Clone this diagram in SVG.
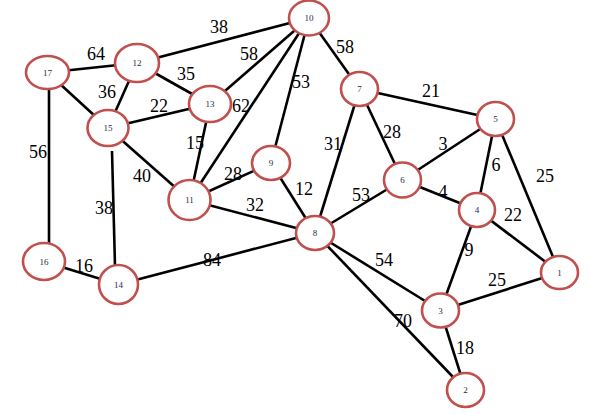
<svg xmlns="http://www.w3.org/2000/svg" width="590" height="414" viewBox="0 0 590 414">
<style>
.e{stroke:#000;stroke-width:2.6;fill:none}
.n ellipse{fill:#fff;stroke:#c0504d;stroke-width:2.6}
.n text{font-family:"Liberation Serif",serif;font-size:9px;fill:#1f2a44;text-anchor:middle;dominant-baseline:central}
.l{font-family:"Liberation Serif",serif;font-size:18px;fill:#000;text-anchor:middle}
</style>
<rect width="590" height="414" fill="#fff"/>
<g id="edges">
<line class="e" x1="309" y1="18" x2="137" y2="63"/>
<line class="e" x1="309" y1="18" x2="210" y2="104"/>
<line class="e" x1="309" y1="18" x2="189.5" y2="200"/>
<line class="e" x1="309" y1="18" x2="271" y2="163"/>
<line class="e" x1="309" y1="18" x2="359.5" y2="89"/>
<line class="e" x1="47.5" y1="72.5" x2="137" y2="63"/>
<line class="e" x1="47.5" y1="72.5" x2="108" y2="128"/>
<line class="e" x1="137" y1="63" x2="108" y2="128"/>
<line class="e" x1="137" y1="63" x2="210" y2="104"/>
<line class="e" x1="108" y1="128" x2="210" y2="104"/>
<line class="e" x1="210" y1="104" x2="189.5" y2="200"/>
<line class="e" x1="108" y1="128" x2="189.5" y2="200"/>
<line class="e" x1="49" y1="89" x2="49" y2="244"/>
<line class="e" x1="112" y1="151" x2="115" y2="266"/>
<line class="e" x1="44" y1="261.5" x2="118.5" y2="284.5"/>
<line class="e" x1="118.5" y1="284.5" x2="315" y2="233"/>
<line class="e" x1="189.5" y1="200" x2="271" y2="163"/>
<line class="e" x1="189.5" y1="200" x2="315" y2="233"/>
<line class="e" x1="271" y1="163" x2="315" y2="233"/>
<line class="e" x1="359.5" y1="89" x2="315" y2="233"/>
<line class="e" x1="359.5" y1="89" x2="402.5" y2="180"/>
<line class="e" x1="359.5" y1="89" x2="495.5" y2="119"/>
<line class="e" x1="495.5" y1="119" x2="402.5" y2="180"/>
<line class="e" x1="495.5" y1="119" x2="477" y2="210"/>
<line class="e" x1="495.5" y1="119" x2="559.5" y2="272.5"/>
<line class="e" x1="402.5" y1="180" x2="315" y2="233"/>
<line class="e" x1="402.5" y1="180" x2="477" y2="210"/>
<line class="e" x1="477" y1="210" x2="559.5" y2="272.5"/>
<line class="e" x1="477" y1="210" x2="440.5" y2="310.5"/>
<line class="e" x1="315" y1="233" x2="440.5" y2="310.5"/>
<line class="e" x1="315" y1="233" x2="465.5" y2="390"/>
<line class="e" x1="440.5" y1="310.5" x2="559.5" y2="272.5"/>
<line class="e" x1="440.5" y1="310.5" x2="465.5" y2="390"/>
</g>
<g id="edge-labels">
<text class="l" x="219" y="33">38</text>
<text class="l" x="96" y="60">64</text>
<text class="l" x="249" y="60">58</text>
<text class="l" x="186" y="80">35</text>
<text class="l" x="107" y="98">36</text>
<text class="l" x="159" y="112">22</text>
<text class="l" x="241" y="112">62</text>
<text class="l" x="195" y="149">15</text>
<text class="l" x="38" y="158">56</text>
<text class="l" x="142" y="182">40</text>
<text class="l" x="233" y="180">28</text>
<text class="l" x="104" y="214">38</text>
<text class="l" x="255" y="211">32</text>
<text class="l" x="301" y="88">53</text>
<text class="l" x="345" y="53">58</text>
<text class="l" x="431" y="97">21</text>
<text class="l" x="392" y="138">28</text>
<text class="l" x="333" y="150">31</text>
<text class="l" x="443" y="150">3</text>
<text class="l" x="496" y="171">6</text>
<text class="l" x="545" y="182">25</text>
<text class="l" x="304" y="195">12</text>
<text class="l" x="361" y="201">53</text>
<text class="l" x="443" y="198">4</text>
<text class="l" x="513" y="221">22</text>
<text class="l" x="212" y="266">84</text>
<text class="l" x="84" y="272">16</text>
<text class="l" x="384" y="266">54</text>
<text class="l" x="469" y="256">9</text>
<text class="l" x="497" y="286">25</text>
<text class="l" x="403" y="327">70</text>
<text class="l" x="465" y="354">18</text>
</g>
<g id="n1" class="n"><ellipse cx="559.5" cy="272.5" rx="18.5" ry="16.5"/><text x="559.5" y="272.5">1</text></g>
<g id="n2" class="n"><ellipse cx="465.5" cy="390" rx="18.5" ry="17"/><text x="465.5" y="390">2</text></g>
<g id="n3" class="n"><ellipse cx="440.5" cy="310.5" rx="18.5" ry="17"/><text x="440.5" y="310.5">3</text></g>
<g id="n4" class="n"><ellipse cx="477" cy="210" rx="18" ry="17"/><text x="477" y="210">4</text></g>
<g id="n5" class="n"><ellipse cx="495.5" cy="119" rx="18.5" ry="17"/><text x="495.5" y="119">5</text></g>
<g id="n6" class="n"><ellipse cx="402.5" cy="180" rx="18.5" ry="17.5"/><text x="402.5" y="180">6</text></g>
<g id="n7" class="n"><ellipse cx="359.5" cy="89" rx="18.5" ry="17"/><text x="359.5" y="89">7</text></g>
<g id="n8" class="n"><ellipse cx="315" cy="233" rx="19" ry="17"/><text x="315" y="233">8</text></g>
<g id="n9" class="n"><ellipse cx="271" cy="163" rx="19" ry="17"/><text x="271" y="163">9</text></g>
<g id="n10" class="n"><ellipse cx="309" cy="18" rx="20" ry="17.5"/><text x="309" y="18">10</text></g>
<g id="n11" class="n"><ellipse cx="189.5" cy="200" rx="21" ry="20"/><text x="189.5" y="200">11</text></g>
<g id="n12" class="n"><ellipse cx="137" cy="63" rx="22" ry="19"/><text x="137" y="63">12</text></g>
<g id="n13" class="n"><ellipse cx="210" cy="104" rx="21" ry="18"/><text x="210" y="104">13</text></g>
<g id="n14" class="n"><ellipse cx="118.5" cy="284.5" rx="19.5" ry="19.5"/><text x="118.5" y="284.5">14</text></g>
<g id="n15" class="n"><ellipse cx="108" cy="128" rx="20.5" ry="18"/><text x="108" y="128">15</text></g>
<g id="n16" class="n"><ellipse cx="44" cy="261.5" rx="21" ry="18.5"/><text x="44" y="261.5">16</text></g>
<g id="n17" class="n"><ellipse cx="47.5" cy="72.5" rx="21.5" ry="16.5"/><text x="47.5" y="72.5">17</text></g>
</svg>
